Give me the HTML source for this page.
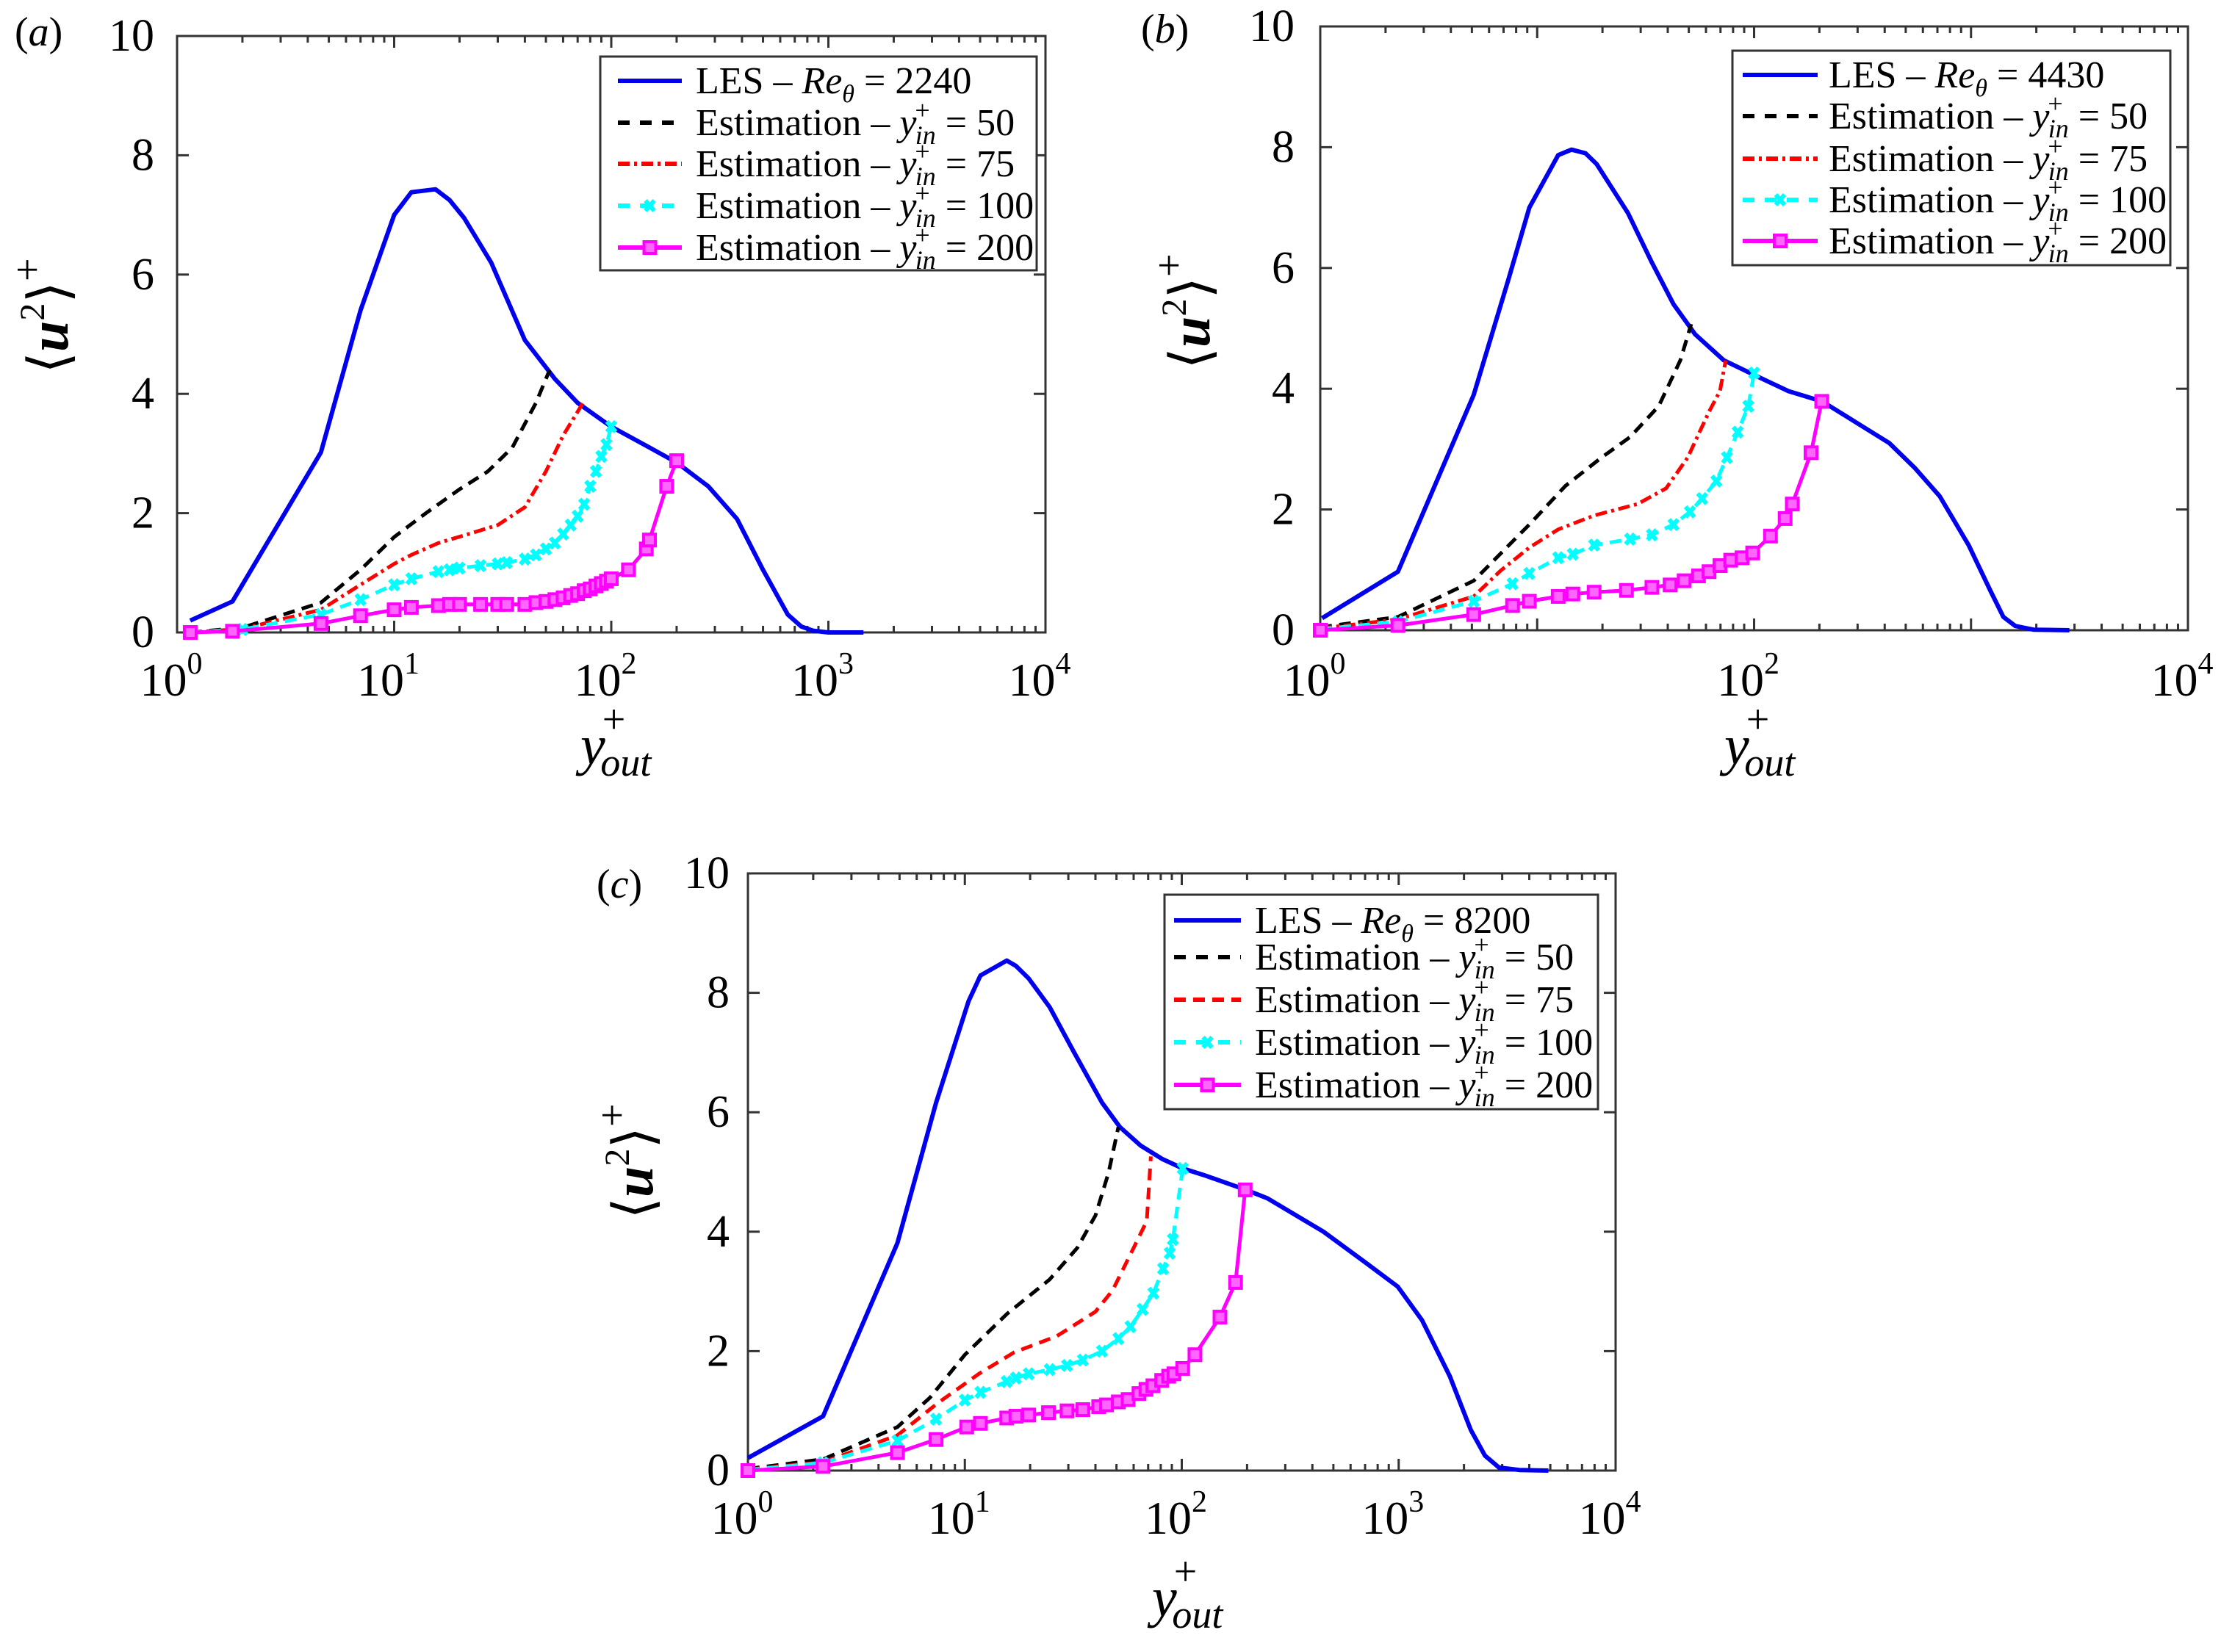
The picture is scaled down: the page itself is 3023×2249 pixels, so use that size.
<!DOCTYPE html>
<html><head><meta charset="utf-8">
<style>
html,body{margin:0;padding:0;background:#fff;}
svg, svg text, svg tspan{font-family:"Liberation Serif","Times New Roman",serif;}
</style></head>
<body>
<svg id="fig" width="3023" height="2244" viewBox="0 0 3023 2244" xmlns="http://www.w3.org/2000/svg" font-family="Liberation Serif, serif"></svg>
<script>
// ---------- Panel (a) data ----------
const aLesX=[1.15,1.8,4.6,7,10,12,15.5,18,21,28,40,55,70,100,150,200,280,380,500,650,750,850,1000,1450];
const aLesY=[0.2,0.52,3.02,5.4,7.0,7.38,7.43,7.25,6.95,6.2,4.9,4.25,3.85,3.45,3.1,2.85,2.45,1.9,1.05,0.3,0.1,0.03,0,0];
const aE50X=[1.15,2,4.6,7,10,14,20,27,35,45,52];
const aE50Y=[0,0.08,0.5,1.05,1.6,2.0,2.4,2.7,3.1,3.85,4.4];
const aE75X=[1.15,2,4.6,7,10,12,16,22,30,40,50,60,70,74];
const aE75Y=[0,0.06,0.38,0.8,1.15,1.3,1.5,1.65,1.8,2.1,2.7,3.3,3.7,3.85];
const aE100X=[1.15,2,4.6,7,10,12,16,18,20,25,30,33,40,45,50,55,60,65,70,75,80,85,90,95,100];
const aE100Y=[0,0.05,0.3,0.55,0.8,0.9,1.02,1.05,1.08,1.12,1.15,1.17,1.23,1.3,1.4,1.5,1.65,1.8,1.95,2.15,2.45,2.7,2.95,3.15,3.45];
const aE200X=[1.15,1.8,4.6,7,10,12,16,18,20,25,30,33,40,45,50,55,60,65,70,75,80,85,90,95,100,120,145,150,180,200];
const aE200Y=[0,0.02,0.15,0.28,0.38,0.42,0.45,0.47,0.47,0.47,0.47,0.47,0.47,0.5,0.52,0.55,0.58,0.62,0.65,0.7,0.73,0.78,0.82,0.86,0.9,1.05,1.4,1.55,2.45,2.88];
// ---------- Panel (b) data ----------
const bLesX=[1.02,2.28,5.1,7.4,9.2,12.5,14.4,16.7,18.8,26.2,33.8,42.5,53.5,72.6,98.5,144,206,264,420,550,717,975,1230,1410,1600,1940,2840];
const bLesY=[0.2,0.97,3.9,5.83,7.0,7.87,7.96,7.9,7.72,6.91,6.09,5.4,4.9,4.47,4.24,3.96,3.79,3.55,3.1,2.69,2.22,1.41,0.65,0.22,0.07,0.01,0];
const bE50X=[1,2.28,5.1,9.2,13.5,19.8,26.8,36.3,45.7,51.3];
const bE50Y=[0.05,0.22,0.82,1.75,2.39,2.86,3.2,3.71,4.47,5.07];
const bE75X=[1,2.28,5.1,6.8,9.2,12.5,18.3,29,39.3,49.4,62,69.6,74];
const bE75Y=[0.03,0.18,0.56,0.99,1.37,1.67,1.9,2.09,2.35,2.86,3.62,3.96,4.47];
const bE100X=[1,2.28,5.1,7.7,9.2,12.5,14.6,18.3,26.8,33.8,42.5,50.6,57.6,67,75,84,94,100];
const bE100Y=[0.02,0.14,0.48,0.77,0.94,1.2,1.26,1.41,1.51,1.58,1.75,1.96,2.18,2.47,2.86,3.28,3.71,4.26];
const bE200X=[1,2.28,5.1,7.7,9.2,12.5,14.6,18.3,25.8,33.8,41,47.6,55.4,62,69.6,78,88,98.5,119,139,150,183,205];
const bE200Y=[0,0.08,0.26,0.41,0.48,0.56,0.6,0.63,0.66,0.71,0.75,0.82,0.9,0.97,1.07,1.16,1.2,1.28,1.56,1.85,2.09,2.94,3.79];
// ---------- Panel (c) data ----------
const cLesX=[1,2.22,4.89,7.37,10.4,11.8,15.6,17.2,19.7,24.6,31.8,42.9,51.9,64.7,81,101,126,198,248,450,705,990,1280,1720,2150,2500,2900,3600,4900];
const cLesY=[0.21,0.91,3.81,6.16,7.86,8.29,8.54,8.45,8.24,7.76,7.01,6.16,5.75,5.44,5.22,5.06,4.95,4.7,4.56,4.0,3.48,3.08,2.52,1.58,0.68,0.25,0.05,0.01,0];
const cE50X=[1,2.22,4.89,6.9,10,15.7,24.6,33,40,46,51];
const cE50Y=[0.03,0.19,0.73,1.22,1.94,2.63,3.2,3.73,4.27,4.99,5.75];
const cE75X=[1,2.22,4.89,7.5,11.6,16.9,26.5,40,48,60,69,72];
const cE75Y=[0.02,0.14,0.59,1.13,1.62,1.98,2.25,2.66,3.02,3.73,4.18,5.26];
const cE100X=[1,2.22,4.89,7.37,10,11.8,15.6,17.2,19.7,24.6,29.6,35,42.9,51,58,66,74,82,88,91,101];
const cE100Y=[0.01,0.13,0.5,0.86,1.18,1.31,1.49,1.55,1.62,1.69,1.76,1.85,2.0,2.21,2.41,2.7,2.97,3.38,3.64,3.87,5.06];
const cE200X=[1,2.22,4.89,7.37,10.2,11.8,15.6,17.2,19.7,24.3,29.6,35,41.4,45,51,56.6,63.5,68.4,73.6,80.8,87,92,101,115,150,177,196];
const cE200Y=[0,0.07,0.3,0.52,0.73,0.79,0.88,0.91,0.93,0.97,1.0,1.02,1.07,1.1,1.15,1.19,1.29,1.36,1.42,1.51,1.58,1.62,1.71,1.94,2.57,3.15,4.7];
// ---------- tick labels ----------
const yTickVals=[0,2,4,6,8,10];
const xDecadesAll=[0,1,2,3,4];
const xDecadesB=[0,2,4];
const legendValues=["50","75","100","200"];

const NS="http://www.w3.org/2000/svg";
const FONT='"Liberation Serif", "Times New Roman", serif';
const svg=document.getElementById('fig');
function mk(tag,attrs,parent){const e=document.createElementNS(NS,tag);for(const k in attrs)e.setAttribute(k,attrs[k]);if(tag==='text'){e.setAttribute('font-family','Liberation Serif, serif');e.style.fontFamily=FONT;}(parent||svg).appendChild(e);return e;}

const panels=[
 {id:'a',L:241,R:1423,T:49,B:861,re:'2240',xd:xDecadesAll,redDash:'16,6,4,6',
  lbl:[20,62],ytR:210,yl:[92,430],xl:[790,1040],leg:{x0:817,x1:1411,y0:77,y1:368,lx0:841,lx1:928,tx:947,rows:[110,167,223,280,337]},
  les:[aLesX,aLesY],e50:[aE50X,aE50Y],e75:[aE75X,aE75Y],e100:[aE100X,aE100Y],e200:[aE200X,aE200Y]},
 {id:'b',L:1797,R:2978,T:36,B:858,re:'4430',xd:xDecadesB,redDash:'16,6,4,6',
  lbl:[1553,58],ytR:1762,yl:[1646,424],xl:[2347,1040],leg:{x0:2358,x1:2954,y0:69,y1:361,lx0:2372,lx1:2474,tx:2489,rows:[102,158,216,272,328]},
  les:[bLesX,bLesY],e50:[bE50X,bE50Y],e75:[bE75X,bE75Y],e100:[bE100X,bE100Y],e200:[bE200X,bE200Y]},
 {id:'c',L:1018,R:2199,T:1189,B:2002,re:'8200',xd:xDecadesAll,redDash:'16,10',
  lbl:[812,1222],ytR:993,yl:[888,1581],xl:[1568,2200],leg:{x0:1585,x1:2175,y0:1218,y1:1510,lx0:1598,lx1:1689,tx:1708,rows:[1253,1303,1361,1419,1477]},
  les:[cLesX,cLesY],e50:[cE50X,cE50Y],e75:[cE75X,cE75Y],e100:[cE100X,cE100Y],e200:[cE200X,cE200Y]}
];

panels.forEach(p=>{
 const g=mk('g',{});
 
 
 const sx=v=>p.L+Math.log10(v)/4*(p.R-p.L);
 const sy=v=>p.B-v/10*(p.B-p.T);
 const fr=mk('rect',{x:p.L,y:p.T,width:p.R-p.L,height:p.B-p.T,fill:'none',stroke:'#333',"stroke-width":3},g);
 
 
 for(let d=0;d<4;d++){for(let m=1;m<10;m++){
   const v=Math.pow(10,d)*m;const x=sx(v);const len=m===1?16:9;
   if(m===1&&d===0)continue;
   const t1=mk('line',{x1:x,x2:x,y1:p.B,y2:p.B-len,stroke:'#333',"stroke-width":3},g);
   
   
   const t2=mk('line',{x1:x,x2:x,y1:p.T,y2:p.T+len,stroke:'#333',"stroke-width":3},g);
   
   
 }}
 yTickVals.forEach(v=>{
   const y=sy(v);
   const t=mk('line',{x1:p.L,x2:p.L+16,y1:y,y2:y,stroke:'#333',"stroke-width":3},g);
   
   
   const t2=mk('line',{x1:p.R,x2:p.R-16,y1:y,y2:y,stroke:'#333',"stroke-width":3},g);
   
   
   const tx=mk('text',{x:p.ytR,y:y+20,"font-size":62,"text-anchor":"end",fill:'#000'},g);
   tx.textContent=String(v);
   
   
 });
 p.xd.forEach(d=>{
   const x=sx(Math.pow(10,d));
   const tx=mk('text',{x:x-8,y:947,"font-size":64,"text-anchor":"middle",fill:'#000'},g);
   if(p.id==='c')tx.setAttribute('y',2088);
   tx.textContent='10';
   const s=document.createElementNS(NS,'tspan');s.setAttribute('font-size',42);s.setAttribute('dy',-30);s.textContent=String(d);tx.appendChild(s);
   
   
 });
 const pl=mk('text',{x:p.lbl[0],y:p.lbl[1],"font-size":56,fill:'#000'},g);
 pl.innerHTML='(<tspan font-style="italic">'+p.id+'</tspan>)';
 
 
 const yl=mk('text',{x:0,y:0,"font-size":76,"text-anchor":"middle",fill:'#000',transform:'translate('+p.yl[0]+','+p.yl[1]+') rotate(-90)'},g);
 yl.innerHTML='⟨<tspan font-style="italic" font-weight="bold">u</tspan><tspan font-size="48" dy="-32">2</tspan><tspan dy="32">⟩</tspan><tspan font-size="56" dy="-36">+</tspan>';
 
 
 const xl=mk('text',{x:p.xl[0],y:p.xl[1],"font-size":76,fill:'#000'},g);
 xl.innerHTML='<tspan font-style="italic">y</tspan><tspan font-size="56" dx="-4" dy="-42">+</tspan><tspan font-size="54" font-style="italic" dx="-34" dy="58">out</tspan>';
 
 
 const pts=(xs,ys)=>xs.map((x,i)=>sx(x).toFixed(1)+','+sy(ys[i]).toFixed(1)).join(' ');
 const sLes=mk('polyline',{points:pts(p.les[0],p.les[1]),fill:'none',stroke:'#0000ee',"stroke-width":6,"stroke-linejoin":"round"},g);
 
 
 const s50=mk('polyline',{points:pts(p.e50[0],p.e50[1]),fill:'none',stroke:'#000',"stroke-width":5,"stroke-dasharray":'16,10'},g);
 
 
 const s75=mk('polyline',{points:pts(p.e75[0],p.e75[1]),fill:'none',stroke:'#ff0000',"stroke-width":5,"stroke-dasharray":p.redDash},g);
 
 
 const s100=mk('polyline',{points:pts(p.e100[0],p.e100[1]),fill:'none',stroke:'#00ffff',"stroke-width":5,"stroke-dasharray":'16,10'},g);
 
 
 p.e100[0].forEach((xv,i)=>{
   const cx=sx(xv),cy=sy(p.e100[1][i]);
   const m=mk('path',{d:`M${cx-6},${cy-7}L${cx+6},${cy+7}M${cx+6},${cy-7}L${cx-6},${cy+7}`,stroke:'#00ffff',"stroke-width":6},g);
   
   
 });
 const s200=mk('polyline',{points:pts(p.e200[0],p.e200[1]),fill:'none',stroke:'#ff00ff',"stroke-width":5},g);
 
 
 p.e200[0].forEach((xv,i)=>{
   const cx=sx(xv),cy=sy(p.e200[1][i]);
   const m=mk('rect',{x:cx-8,y:cy-8,width:16,height:16,fill:'#ff66ff',stroke:'#ff00ff',"stroke-width":4},g);
   
   
 });
 const L=p.leg;
 const lg=mk('g',{},g);
 
 
 mk('rect',{x:L.x0,y:L.y0,width:L.x1-L.x0,height:L.y1-L.y0,fill:'#fff',stroke:'#333',"stroke-width":3},lg);
 const styles=[
  {stroke:'#0000ee',dash:''},{stroke:'#000',dash:'16,14'},{stroke:'#ff0000',dash:p.redDash},{stroke:'#00ffff',dash:'16,14'},{stroke:'#ff00ff',dash:''}];
 styles.forEach((st,i)=>{
   const y=L.rows[i];
   const ln=mk('line',{x1:L.lx0,x2:L.lx1,y1:y,y2:y,stroke:st.stroke,"stroke-width":6,"stroke-dasharray":st.dash},lg);
   
   
   const mx=(L.lx0+L.lx1)/2;
   if(i===3){mk('path',{d:`M${mx-6},${y-7}L${mx+6},${y+7}M${mx+6},${y-7}L${mx-6},${y+7}`,stroke:'#00ffff',"stroke-width":6},lg);}
   if(i===4){mk('rect',{x:mx-8,y:y-8,width:16,height:16,fill:'#ff66ff',stroke:'#ff00ff',"stroke-width":4},lg);}
   const t=mk('text',{x:L.tx,y:y+17,"font-size":52,fill:'#000'},lg);
   if(i===0){t.innerHTML='LES – <tspan font-style="italic">Re</tspan><tspan font-size="34" font-style="italic" dy="12">θ</tspan><tspan dy="-12"> = '+p.re+'</tspan>';}
   else{t.innerHTML='Estimation – <tspan font-style="italic">y</tspan><tspan font-size="36" dx="-2" dy="-22">+</tspan><tspan font-size="36" font-style="italic" dx="-20" dy="34">in</tspan><tspan dy="-12"> = '+legendValues[i-1]+'</tspan>';}
   
   
 });
});
</script>
</body></html>
